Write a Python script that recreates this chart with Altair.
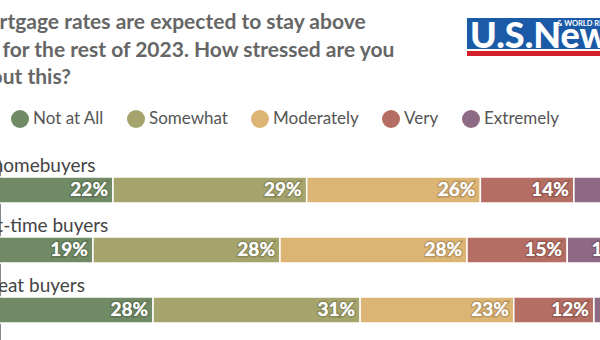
import altair as alt
import pandas as pd

title_lines = [
    "Mortgage rates are expected to stay above",
    "6% for the rest of 2023. How stressed are you",
    "about this?",
]
groups = ["All homebuyers", "First-time buyers", "Repeat buyers"]
categories = ["Not at All", "Somewhat", "Moderately", "Very", "Extremely"]
colors = ["#6f8a65", "#a4a46c", "#dcb474", "#b56e63", "#8f6a85"]
values = {
    "Not at All": [22, 19, 28],
    "Somewhat": [29, 28, 31],
    "Moderately": [26, 28, 23],
    "Very": [14, 15, 12],
    "Extremely": [9, 10, 6],
}

rows = []
for gi, g in enumerate(groups):
    start = 0
    for ci, c in enumerate(categories):
        v = values[c][gi]
        rows.append({"group": g, "cat": c, "order": ci, "start": start,
                     "end": start + v, "label": f"{v}%"})
        start += v
df = pd.DataFrame(rows)

FONT = "Lato"
xscale = alt.Scale(domain=[0, 100], range=[-34, 634])
yscale = alt.Scale(domain=groups, range=[160, 340], paddingInner=0, paddingOuter=0)

base = alt.Chart(df)

bars = base.mark_bar(height=26, stroke="white", strokeWidth=1.5, cornerRadius=0).encode(
    x=alt.X("start:Q", scale=xscale, axis=None),
    x2="end:Q",
    y=alt.Y("group:N", scale=yscale, axis=None),
    color=alt.Color(
        "cat:N",
        scale=alt.Scale(domain=categories, range=colors),
        legend=alt.Legend(
            title=None, orient="none", legendX=11, legendY=110,
            direction="horizontal", symbolType="circle", symbolSize=324,
            symbolStrokeWidth=0, symbolOpacity=1, labelFont=FONT,
            labelFontSize=17, labelColor="#555", labelOffset=4,
            columnPadding=23, labelLimit=200,
        ),
    ),
    order="order:Q",
)

halo = base.mark_text(align="right", baseline="middle", dx=-5, font=FONT,
                      fontSize=19, fontWeight="bold", stroke="#000",
                      strokeOpacity=0.18, strokeWidth=3, fill="white").encode(
    x=alt.X("end:Q", scale=xscale),
    y=alt.Y("group:N", scale=yscale),
    text="label:N",
)
pct = base.mark_text(align="right", baseline="middle", dx=-5, font=FONT,
                     fontSize=19, fontWeight="bold", color="white").encode(
    x=alt.X("end:Q", scale=xscale),
    y=alt.Y("group:N", scale=yscale),
    text="label:N",
)

gdf = pd.DataFrame({"group": groups})
glabels = alt.Chart(gdf).mark_text(align="left", baseline="alphabetic", dy=-18,
                                   font=FONT, fontSize=19, color="#444").encode(
    x=alt.datum(0, scale=xscale),
    y=alt.Y("group:N", scale=yscale),
    text="group:N",
)

tdf = pd.DataFrame({"line": title_lines, "i": [0, 1, 2]})
title = alt.Chart(tdf).mark_text(align="left", baseline="alphabetic", font=FONT,
                                 fontSize=21, fontWeight="bold", color="#666").encode(
    x=alt.value(-32),
    y=alt.Y("i:O", scale=alt.Scale(domain=[0, 1, 2], range=[29, 84], type="point",
                                   padding=0), axis=None),
    text="line:N",
)

blue = alt.Chart(pd.DataFrame({"a": [0]})).mark_rect(color="#1b5aa7").encode(
    x=alt.value(467), x2=alt.value(620), y=alt.value(18), y2=alt.value(49))
red = alt.Chart(pd.DataFrame({"a": [0]})).mark_rect(color="#d21f2b").encode(
    x=alt.value(467), x2=alt.value(620), y=alt.value(51), y2=alt.value(56))
logo = alt.Chart(pd.DataFrame({"t": ["U.S.News"]})).mark_text(
    align="left", baseline="alphabetic", font=FONT, fontSize=36, fontWeight=900,
    color="white").encode(x=alt.value(470), y=alt.value(48), text="t:N")
logo2 = alt.Chart(pd.DataFrame({"t": ["& WORLD REPORT"]})).mark_text(
    align="left", baseline="alphabetic", font=FONT, fontSize=7.5, fontWeight="bold",
    color="white").encode(x=alt.value(557), y=alt.value(26), text="t:N")

chart = alt.layer(title, blue, red, logo, logo2, bars, halo, pct, glabels).resolve_scale(
    y="independent"
).properties(
    width=600, height=340, padding=0,
    autosize=alt.AutoSizeParams(type="none"),
    background="white",
).configure_view(stroke=None)

chart.save("out.html", embed_options={"renderer": "svg", "actions": False})
